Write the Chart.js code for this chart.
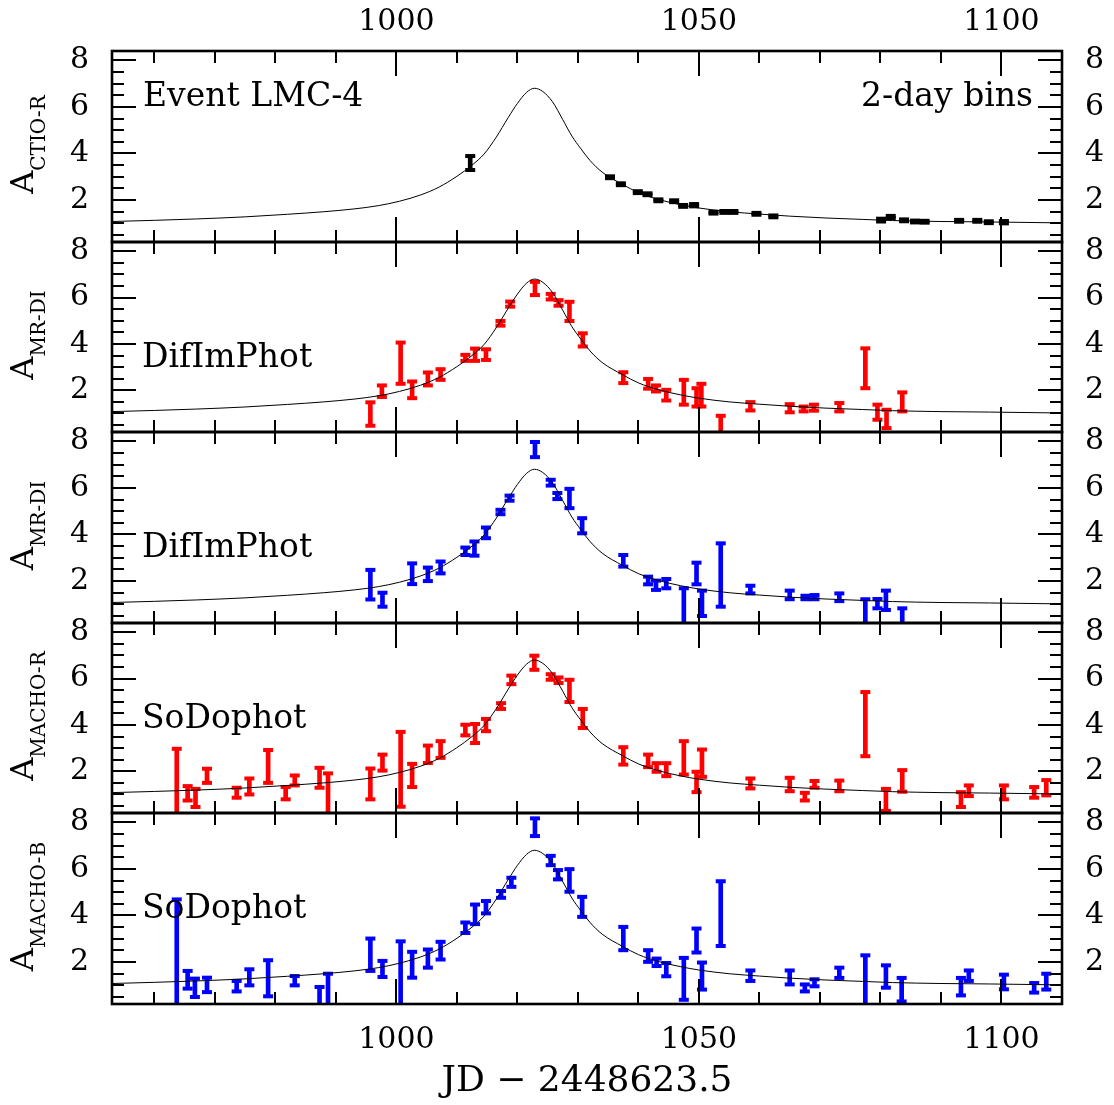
<!DOCTYPE html>
<html>
<head>
<meta charset="utf-8">
<script src="https://cdn.jsdelivr.net/npm/chart.js@4.4.1/dist/chart.umd.min.js"></script>
<style>
  html, body { margin: 0; padding: 0; background: #fff; }
  #wrap { position: relative; width: 1114px; height: 1105px; }
  #wrap canvas { position: absolute; left: 0; top: 0; }
</style>
</head>
<body>
<div id="wrap">
  <canvas id="p0" width="1114" height="1105"></canvas>
  <canvas id="p1" width="1114" height="1105"></canvas>
  <canvas id="p2" width="1114" height="1105"></canvas>
  <canvas id="p3" width="1114" height="1105"></canvas>
  <canvas id="p4" width="1114" height="1105"></canvas>
</div>
<script>
// axis limits
const X_MIN = 953, X_MAX = 1110;
const Y_MIN = 0.2, Y_MAX = 8.4;

// fit curve (same in every panel)
const curveT = [953, 960, 967, 975, 982, 988, 993, 997, 1000.5, 1004, 1007, 1010, 1012.5, 1014.5,
  1016.5, 1018.5, 1020, 1021.5, 1022.8, 1024.2, 1025.8, 1027.5, 1029, 1030.5, 1032, 1034,
  1037.4, 1040, 1043.4, 1047, 1050, 1055, 1060, 1065, 1071, 1077, 1082, 1090, 1098, 1110];
const curveA = [1.08, 1.13, 1.19, 1.28, 1.39, 1.50, 1.62, 1.76, 1.95, 2.22, 2.55, 3.02, 3.50, 3.98,
  4.70, 5.55, 6.15, 6.62, 6.80, 6.66, 6.22, 5.45, 4.75, 4.20, 3.70, 3.20,
  2.67, 2.32, 2.02, 1.80, 1.66, 1.50, 1.40, 1.31, 1.23, 1.17, 1.12, 1.08, 1.06, 1.02];

// CTIO-R, 2-day bins
const ctioT  = [1012.2, 1035.3, 1037.1, 1039.9, 1041.5, 1043.3, 1045.9, 1047.4, 1049.2, 1052.4, 1054.2, 1055.7,
  1059.5, 1062.3, 1080.1, 1081.7, 1083.9, 1085.7, 1087.3, 1093.0, 1096.0, 1097.9, 1100.4];
const ctioLo = [3.29, 2.94, 2.64, 2.30, 2.21, 1.95, 1.91, 1.71, 1.73, 1.42, 1.45, 1.45,
  1.37, 1.26, 1.08, 1.22, 1.09, 1.04, 1.03, 1.07, 1.07, 1.01, 1.00];
const ctioHi = [3.89, 3.02, 2.72, 2.38, 2.29, 2.03, 1.99, 1.79, 1.83, 1.50, 1.53, 1.53,
  1.45, 1.34, 1.20, 1.32, 1.17, 1.12, 1.11, 1.15, 1.15, 1.09, 1.10];

// MR-DI red, DifImPhot
const mrRedT  = [995.7, 997.6, 1000.7, 1002.6, 1005.2, 1007.3, 1011.4, 1013.0, 1014.8, 1017.2, 1018.8, 1022.9,
  1025.5, 1026.8, 1028.6, 1030.8, 1037.5, 1041.6, 1042.9, 1044.6, 1047.5, 1049.6, 1050.4, 1053.6,
  1058.5, 1065.0, 1067.3, 1069.0, 1073.2, 1077.5, 1079.5, 1081.0, 1083.6];
const mrRedLo = [0.47, 1.71, 2.28, 1.66, 2.21, 2.45, 3.27, 3.27, 3.31, 4.79, 5.61, 6.11,
  5.92, 5.65, 4.99, 3.89, 2.31, 2.07, 1.95, 1.56, 1.38, 1.30, 1.30, 0.10,
  1.13, 1.05, 1.09, 1.12, 1.09, 2.09, 0.73, 0.37, 1.09];
const mrRedHi = [1.48, 2.21, 4.06, 2.38, 2.77, 2.91, 3.53, 3.80, 3.77, 4.99, 5.83, 6.68,
  6.16, 5.89, 5.82, 4.46, 2.78, 2.49, 2.21, 2.02, 2.45, 2.09, 2.28, 0.90,
  1.49, 1.40, 1.30, 1.38, 1.45, 3.81, 1.38, 1.16, 1.91];

// MR-DI blue, DifImPhot
const mrBlueT  = [995.7, 997.7, 1002.6, 1005.2, 1007.3, 1011.4, 1012.9, 1014.8, 1017.2, 1018.7, 1022.9, 1025.5,
  1026.6, 1028.6, 1030.7, 1037.5, 1041.6, 1042.9, 1044.6, 1047.5, 1049.6, 1050.5, 1053.6, 1058.5,
  1065.0, 1067.6, 1069.1, 1073.2, 1077.5, 1079.5, 1080.9, 1083.6];
const mrBlueLo = [1.21, 0.90, 1.87, 2.00, 2.33, 3.12, 3.09, 3.84, 4.87, 5.45, 7.32, 6.10,
  5.52, 5.13, 4.05, 2.62, 1.86, 1.62, 1.69, 0.10, 1.86, 0.50, 0.90, 1.47,
  1.22, 1.22, 1.22, 1.14, 0.10, 0.83, 0.76, 0.10];
const mrBlueHi = [2.48, 1.50, 2.76, 2.58, 2.84, 3.44, 3.70, 4.30, 5.06, 5.67, 7.97, 6.35,
  5.78, 5.96, 4.70, 3.12, 2.19, 2.02, 2.09, 1.69, 2.79, 1.59, 3.62, 1.80,
  1.59, 1.37, 1.40, 1.47, 1.22, 1.23, 1.59, 0.83];

// MACHO-R, SoDophot
const machoRT  = [963.7, 965.5, 966.8, 968.7, 973.6, 975.7, 978.8, 981.7, 983.2, 987.3, 988.7, 995.7,
  997.7, 1000.7, 1002.6, 1005.2, 1007.3, 1011.4, 1013.0, 1014.8, 1017.3, 1019.0, 1022.8, 1025.5,
  1026.8, 1028.6, 1030.8, 1037.5, 1041.6, 1043.0, 1044.6, 1047.5, 1049.6, 1050.5, 1058.5, 1065.0,
  1067.5, 1069.1, 1073.2, 1077.5, 1080.9, 1083.6, 1093.3, 1094.6, 1100.4, 1105.4, 1107.4];
const machoRLo = [0.10, 0.74, 0.46, 1.50, 0.86, 1.00, 1.50, 0.79, 1.39, 1.29, 0.10, 0.79,
  2.03, 0.47, 1.32, 2.36, 2.58, 3.55, 3.22, 3.73, 4.69, 5.76, 6.38, 5.95,
  5.81, 4.99, 3.87, 2.29, 2.18, 1.98, 1.79, 1.86, 1.10, 1.76, 1.26, 1.14,
  0.74, 1.29, 1.14, 2.65, 0.29, 1.12, 0.46, 0.93, 0.79, 0.86, 0.96];
const machoRHi = [2.97, 1.36, 1.24, 2.11, 1.29, 1.69, 2.92, 1.32, 1.82, 2.15, 1.91, 2.12,
  2.72, 3.70, 2.32, 3.11, 3.30, 4.01, 4.04, 4.26, 4.94, 6.13, 6.99, 6.19,
  6.05, 5.95, 4.69, 3.04, 2.72, 2.35, 2.35, 3.30, 1.98, 2.94, 1.69, 1.72,
  1.07, 1.58, 1.60, 5.42, 1.24, 2.05, 1.10, 1.39, 1.39, 1.32, 1.62];

// MACHO-B, SoDophot
const machoBT  = [963.7, 965.5, 966.7, 968.7, 973.6, 975.7, 978.8, 983.2, 987.3, 988.7, 995.7, 997.7,
  1000.7, 1002.6, 1005.2, 1007.3, 1011.4, 1013.0, 1014.8, 1017.3, 1019.0, 1022.9, 1025.5, 1026.7,
  1028.6, 1030.7, 1037.5, 1041.6, 1043.0, 1044.6, 1047.5, 1049.6, 1050.5, 1053.6, 1058.5, 1065.0,
  1067.5, 1069.1, 1073.2, 1077.5, 1080.9, 1083.5, 1093.3, 1094.6, 1100.4, 1105.4, 1107.4];
const machoBLo = [0.10, 0.86, 0.50, 0.71, 0.74, 1.00, 0.53, 1.00, 0.10, 0.10, 1.62, 1.36,
  0.10, 1.33, 1.76, 2.11, 3.25, 3.63, 4.09, 4.76, 5.23, 7.41, 6.16, 5.55,
  5.02, 3.94, 2.51, 2.01, 1.83, 1.39, 0.38, 2.41, 0.82, 2.69, 1.19, 1.04,
  0.74, 0.96, 1.32, 0.10, 0.90, 0.31, 0.57, 1.19, 0.83, 0.69, 0.82];
const machoBHi = [4.69, 1.62, 1.29, 1.33, 1.19, 1.69, 2.08, 1.40, 0.93, 1.50, 3.01, 2.05,
  2.89, 2.44, 2.54, 2.87, 3.70, 4.47, 4.62, 5.05, 5.62, 8.17, 6.56, 5.95,
  5.99, 4.80, 3.51, 2.51, 2.15, 1.96, 2.18, 3.44, 1.98, 5.47, 1.64, 1.64,
  1.04, 1.26, 1.76, 2.29, 1.86, 1.32, 1.32, 1.64, 1.46, 1.10, 1.50];

// tick marks: minor every 10 days / 0.5, major every 50 days / 2
const xTickVals = [960, 970, 980, 990, 1000, 1010, 1020, 1030, 1040, 1050, 1060, 1070, 1080, 1090, 1100];
const yTickVals = [0.5, 1, 1.5, 2, 2.5, 3, 3.5, 4, 4.5, 5, 5.5, 6, 6.5, 7, 7.5, 8];

// panel edges in page pixels
const PANEL_EDGES = [51, 242, 432, 623, 813, 1004];
const FONT = '"DejaVu Serif", "Liberation Serif", serif';

const panels = [
  { sub: 'CTIO-R',  color: '#000000', t: ctioT,   lo: ctioLo,   hi: ctioHi,
    notes: [{ text: 'Event LMC-4', dx: 31, dy: 55, align: 'left' }, { text: '2-day bins', dx: -29, dy: 55, align: 'right' }] },
  { sub: 'MR-DI',   color: '#ff0000', t: mrRedT,  lo: mrRedLo,  hi: mrRedHi,
    notes: [{ text: 'DifImPhot', dx: 30, dy: 125, align: 'left' }] },
  { sub: 'MR-DI',   color: '#0000ff', t: mrBlueT, lo: mrBlueLo, hi: mrBlueHi,
    notes: [{ text: 'DifImPhot', dx: 30, dy: 125, align: 'left' }] },
  { sub: 'MACHO-R', color: '#ff0000', t: machoRT, lo: machoRLo, hi: machoRHi,
    notes: [{ text: 'SoDophot', dx: 30, dy: 105, align: 'left' }] },
  { sub: 'MACHO-B', color: '#0000ff', t: machoBT, lo: machoBLo, hi: machoBHi,
    notes: [{ text: 'SoDophot', dx: 30, dy: 105, align: 'left' }] },
];

Chart.defaults.font.family = FONT;
Chart.defaults.color = '#000';

// frame, inward ticks, panel notes and y title
const framePlugin = {
  id: 'frame',
  afterDraw(chart, args, opts) {
    const ctx = chart.ctx;
    const a = chart.chartArea;
    const L = Math.round(a.left), R = Math.round(a.right), T = Math.round(a.top), B = Math.round(a.bottom);
    const xs = chart.scales.x, ys = chart.scales.y;
    ctx.save();
    ctx.fillStyle = '#000';
    xTickVals.forEach(v => {
      const px = Math.round(xs.getPixelForValue(v));
      const len = v % 50 === 0 ? 25 : 12;
      ctx.fillRect(px - 1, T, 2, len);
      ctx.fillRect(px - 1, B - len, 2, len);
    });
    yTickVals.forEach(v => {
      const py = Math.round(ys.getPixelForValue(v));
      const len = v % 2 === 0 ? 24 : 12;
      ctx.fillRect(L, py - 1, len, 2);
      ctx.fillRect(R - len, py - 1, len, 2);
    });
    ctx.strokeStyle = '#000';
    ctx.lineWidth = 2.6;
    ctx.strokeRect(L, T, R - L, B - T);

    ctx.textBaseline = 'alphabetic';
    ctx.font = '33px ' + FONT;
    opts.notes.forEach(n => {
      ctx.textAlign = n.align;
      const nx = n.align === 'left' ? L + n.dx : R + n.dx;
      ctx.fillText(n.text, nx, T + n.dy);
    });

    // A with subscript, rotated
    ctx.textAlign = 'left';
    ctx.font = '32px ' + FONT;
    const wA = ctx.measureText('A').width;
    ctx.font = '20px ' + FONT;
    const wS = ctx.measureText(opts.sub).width;
    const cy = (T + B) / 2 - 2;
    ctx.translate(33, cy + (wA + wS) / 2);
    ctx.rotate(-Math.PI / 2);
    ctx.font = '32px ' + FONT;
    ctx.fillText('A', 0, 0);
    ctx.font = '20px ' + FONT;
    ctx.fillText(opts.sub, wA, 12);
    ctx.restore();
  }
};

function makePanel(i) {
  const p = panels[i];
  const top = PANEL_EDGES[i], bottom = PANEL_EDGES[i + 1];
  const first = i === 0, last = i === panels.length - 1;
  const bars = p.t.map((t, k) => ({ x: t, y: [p.lo[k], p.hi[k]] }));
  const caps = [];
  p.t.forEach((t, k) => { caps.push({ x: t, y: p.lo[k] }, { x: t, y: p.hi[k] }); });

  const yScale = pos => ({
    type: 'linear', position: pos, min: Y_MIN, max: Y_MAX, beginAtZero: false,
    grid: { display: false, drawTicks: false }, border: { display: false },
    ticks: { stepSize: 2, includeBounds: false, padding: 23, color: '#000', font: { size: 30 },
      callback: v => String(v) },
    afterFit: s => { s.width = 50; }
  });

  const xScale = {
    type: 'linear', min: X_MIN, max: X_MAX, offset: false,
    position: first ? 'top' : 'bottom', display: first || last,
    grid: { display: false, drawTicks: false, offset: false }, border: { display: false },
    ticks: { stepSize: 50, includeBounds: false, maxRotation: 0, autoSkip: false,
      padding: first ? 11 : 18, color: '#000', font: { size: 30 }, callback: v => String(v) },
    title: { display: last, text: 'JD \u2212 2448623.5', color: '#000', font: { size: 36 }, padding: { top: 0, bottom: 2 } }
  };
  if (first) xScale.afterFit = s => { s.height = top; };
  if (last) xScale.afterFit = s => { s.height = 1105 - bottom; };

  return new Chart(document.getElementById('p' + i), {
    type: 'bar',
    data: {
      datasets: [
        { type: 'line', data: curveT.map((t, k) => ({ x: t, y: curveA[k] })),
          borderColor: '#000', borderWidth: 1, pointRadius: 0, cubicInterpolationMode: 'monotone' },
        { type: 'line', data: caps, showLine: false, pointStyle: 'line', pointRadius: 5,
          borderColor: p.color, pointBorderColor: p.color, pointBorderWidth: 4 },
        { type: 'bar', data: bars, backgroundColor: p.color, borderWidth: 0, barThickness: 4 }
      ]
    },
    options: {
      responsive: false, animation: false, events: [],
      layout: { padding: { left: 62, right: 2, top: first ? 0 : top, bottom: last ? 0 : 1105 - bottom } },
      scales: { x: xScale, y: yScale('left'), y2: yScale('right') },
      plugins: { legend: { display: false }, tooltip: { enabled: false }, frame: { sub: p.sub, notes: p.notes } }
    },
    plugins: [framePlugin]
  });
}

panels.forEach((p, i) => makePanel(i));
</script>
</body>
</html>
